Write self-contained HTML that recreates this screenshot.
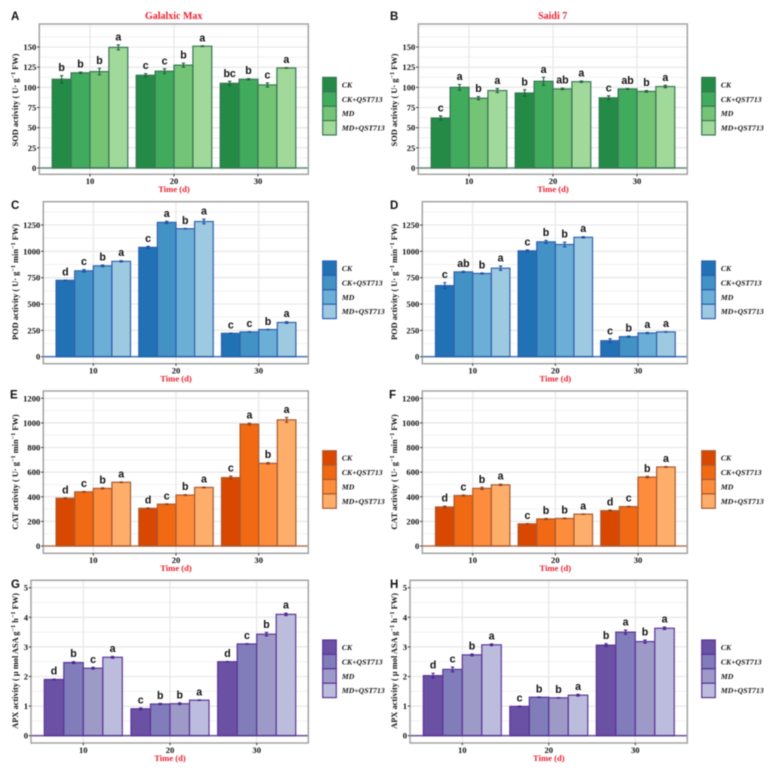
<!DOCTYPE html>
<html lang="en">
<head>
<meta charset="utf-8">
<title>Enzyme activity bar charts</title>
<style>
html,body{margin:0;padding:0;background:#fff;}
svg{display:block;filter:blur(0.5px);}
text{font-family:"Liberation Serif",serif;}
.sans{font-family:"Liberation Sans",sans-serif;font-weight:bold;}
</style>
</head>
<body>
<svg id="chart" xmlns="http://www.w3.org/2000/svg" width="769" height="768" viewBox="0 0 769 768"></svg>
<script>
const days = ['10', '20', '30'];
const treatments = ['CK', 'CK+QST713', 'MD', 'MD+QST713'];

const sodTicks = [0, 25, 50, 75, 100, 125, 150];
const podTicks = [0, 250, 500, 750, 1000, 1250];
const catTicks = [0, 200, 400, 600, 800, 1000, 1200];
const apxTicks = [0, 1, 2, 3, 4, 5];

const sodGalalxic = [[110, 118, 119.5, 149.5], [115, 120, 127.5, 151], [105, 110, 103, 124]];
const sodGalalxicErr = [[4.5, 1, 4, 3], [2, 3, 2.5, 0.5], [2.5, 0.7, 2.5, 0.3]];
const sodGalalxicLetters = [['b', 'b', 'b', 'a'], ['c', 'c', 'b', 'a'], ['bc', 'b', 'c', 'a']];

const sodSaidi = [[62, 100, 86.5, 96], [93, 107.5, 98, 107], [87, 98, 95, 101]];
const sodSaidiErr = [[2.5, 3.5, 2, 2.5], [4, 5, 1, 1], [2.5, 0.5, 1, 1.5]];
const sodSaidiLetters = [['c', 'a', 'b', 'a'], ['b', 'a', 'ab', 'a'], ['c', 'ab', 'b', 'a']];

const podGalalxic = [[725, 815, 862, 905], [1038, 1275, 1215, 1283], [222, 235, 258, 325]];
const podGalalxicErr = [[3, 12, 8, 6], [10, 10, 3, 22], [3, 3, 2, 8]];
const podGalalxicLetters = [['d', 'c', 'b', 'a'], ['c', 'a', 'b', 'a'], ['c', 'c', 'b', 'a']];

const podSaidi = [[675, 805, 790, 840], [1005, 1090, 1065, 1133], [152, 190, 225, 235]];
const podSaidiErr = [[28, 5, 5, 20], [8, 14, 22, 6], [18, 6, 5, 3]];
const podSaidiLetters = [['c', 'ab', 'b', 'a'], ['c', 'b', 'b', 'a'], ['c', 'b', 'a', 'a']];

const catGalalxic = [[388, 440, 468, 518], [306, 340, 414, 476], [556, 990, 672, 1025]];
const catGalalxicErr = [[4, 3, 5, 3], [3, 3, 3, 3], [12, 8, 6, 20]];
const catGalalxicLetters = [['d', 'c', 'b', 'a'], ['d', 'c', 'b', 'a'], ['c', 'a', 'b', 'a']];

const catSaidi = [[317, 410, 468, 497], [180, 220, 224, 259], [287, 320, 560, 642]];
const catSaidiErr = [[8, 4, 9, 5], [2, 4, 3, 2], [5, 3, 6, 3]];
const catSaidiLetters = [['d', 'c', 'b', 'a'], ['c', 'b', 'b', 'a'], ['d', 'c', 'b', 'a']];

const apxGalalxic = [[1.9, 2.47, 2.28, 2.65], [0.91, 1.07, 1.08, 1.2], [2.5, 3.1, 3.43, 4.1]];
const apxGalalxicErr = [[0.01, 0.03, 0.03, 0.03], [0.03, 0.02, 0.03, 0.01], [0.01, 0.01, 0.06, 0.04]];
const apxGalalxicLetters = [['d', 'b', 'c', 'a'], ['c', 'b', 'b', 'a'], ['d', 'c', 'b', 'a']];

const apxSaidi = [[2.03, 2.24, 2.73, 3.07], [0.99, 1.3, 1.28, 1.37], [3.06, 3.5, 3.18, 3.63]];
const apxSaidiErr = [[0.08, 0.08, 0.03, 0.03], [0.01, 0.01, 0.01, 0.03], [0.05, 0.07, 0.05, 0.04]];
const apxSaidiLetters = [['d', 'c', 'b', 'a'], ['c', 'b', 'b', 'a'], ['b', 'a', 'b', 'a']];

const greens = ['#238b45', '#41ab5d', '#74c476', '#a1d99b'];
const blues = ['#2171b5', '#4292c6', '#6baed6', '#9ecae1'];
const oranges = ['#d94801', '#f16913', '#fd8d3c', '#fdae6b'];
const purples = ['#6a51a3', '#807dba', '#9e9ac8', '#bcbddc'];

const NS = 'http://www.w3.org/2000/svg';
const root = document.getElementById('chart');

function make(tag, parent, attrs, content) {
  const el = document.createElementNS(NS, tag);
  for (const k in attrs) el.setAttribute(k, attrs[k]);
  if (content !== undefined) el.textContent = content;
  parent.appendChild(el);
  return el;
}

function drawPanel(p) {
  const g = make('g', root, {});
  
  

  const yTop = p.top, yBottom = p.bottom;
  const pxPerUnit = (p.y0 - p.yTickPos) / p.yTickVal;
  const yScale = v => p.y0 - v * pxPerUnit;
  const step = p.x30 - p.x20;
  const xScale = i => p.x10 + i * (p.x30 - p.x10) / (days.length - 1);
  const barW = 0.9 * step / treatments.length;

  // gridlines
  const tickStep = p.ticks[1] - p.ticks[0];
  for (let v = -tickStep / 2; yScale(v) > yTop; v += tickStep / 2) {
    const y = yScale(v);
    if (y >= yBottom) continue;
    const major = p.ticks.includes(v);
    const line = make('line', g, {x1: p.left, x2: p.right, y1: y, y2: y, stroke: major ? '#e8e8e8' : '#f0f0f0', 'stroke-width': major ? 1.3 : 0.9});
    
    
  }
  days.forEach((d, i) => {
    const line = make('line', g, {x1: xScale(i), x2: xScale(i), y1: yTop, y2: yBottom, stroke: '#e8e8e8', 'stroke-width': 1.3});
    
    
  });

  // bars, error bars, letters
  days.forEach((d, i) => {
    treatments.forEach((t, j) => {
      const value = p.values[i][j];
      const err = p.errors[i][j];
      const x = xScale(i) + (j - treatments.length / 2) * barW;
      const bar = make('rect', g, {x: x, y: yScale(value), width: barW, height: p.y0 - yScale(value), fill: p.colors[j], stroke: p.stroke, 'stroke-width': 1.2});
      
      

      const cx = x + barW / 2;
      const top = yScale(value + err), low = yScale(value - err);
      const eb = make('path', g, {d: 'M' + (cx - 1.7) + ' ' + top + 'H' + (cx + 1.7) + 'M' + cx + ' ' + top + 'V' + low + 'M' + (cx - 1.7) + ' ' + low + 'H' + (cx + 1.7), fill: 'none', stroke: p.errColor, 'stroke-width': 1.1});
      
      

      const lab = make('text', g, {x: cx, y: top - 4.5, 'text-anchor': 'middle', 'font-size': 10.6, fill: '#111', class: 'sans'}, p.letters[i][j]);
      
      
    });
  });

  // zero line
  const zero = make('line', g, {x1: p.left, x2: p.right, y1: p.y0, y2: p.y0, stroke: p.stroke, 'stroke-width': 1.6, opacity: 0.8});
  
  

  // panel border
  const border = make('rect', g, {x: p.left, y: yTop, width: p.right - p.left, height: yBottom - yTop, fill: 'none', stroke: '#a3a3a3', 'stroke-width': 1.5});
  
  

  // y axis
  p.ticks.forEach(v => {
    const y = yScale(v);
    const tick = make('line', g, {x1: p.left - 2.2, x2: p.left, y1: y, y2: y, stroke: '#222', 'stroke-width': 0.9});
    
    
    const lab = make('text', g, {x: p.left - 3, y: y + 3, 'text-anchor': 'end', 'font-size': 8.6, 'font-weight': 'bold', fill: '#111'}, String(v));
    
    
  });

  // x axis
  days.forEach((d, i) => {
    const tick = make('line', g, {x1: xScale(i), x2: xScale(i), y1: yBottom, y2: yBottom + 2.2, stroke: '#222', 'stroke-width': 0.9});
    
    
    const lab = make('text', g, {x: xScale(i), y: yBottom + 9.8, 'text-anchor': 'middle', 'font-size': 8.6, 'font-weight': 'bold', fill: '#111'}, d);
    
    
  });

  const xTitle = make('text', g, {x: xScale(1), y: yBottom + 17.8, 'text-anchor': 'middle', 'font-size': 8.6, 'font-weight': 'bold', fill: '#e8202e'}, 'Time (d)');
  
  

  // y title
  const yT = make('text', g, {transform: 'translate(' + p.yTitleX + ' ' + p.yTitleY + ') rotate(-90)', 'text-anchor': 'middle', 'font-size': 8.4, 'font-weight': 'bold', fill: '#111'});
  
  
  let raised = false;
  p.yTitle.forEach(part => {
    const isSup = part.startsWith('^');
    const attrs = isSup ? {dy: -2.8, 'font-size': 6.2} : {dy: raised ? 2.8 : 0};
    make('tspan', yT, attrs, isSup ? part.slice(1) : part);
    raised = isSup;
  });

  // panel letter
  const pl = make('text', g, {x: p.tagX, y: p.tagY, 'font-size': 11.5, fill: '#111', class: 'sans'}, p.letter);
  
  

  // chart title
  if (p.title) {
    const t = make('text', g, {x: p.titleX, y: 19, 'text-anchor': 'middle', 'font-size': 10, 'font-weight': 'bold', fill: '#e8202e'}, p.title);
    
    
  }

  // legend
  const keyH = 14.4;
  treatments.forEach((t, j) => {
    const ky = p.legendY + j * keyH;
    const key = make('rect', g, {x: p.legendX, y: ky, width: 13.6, height: keyH, fill: p.colors[j], stroke: p.stroke, 'stroke-width': 1.2});
    
    
    const lab = make('text', g, {x: p.legendX + 19.2, y: ky + keyH / 2 + 2.8, 'font-size': 7.7, 'font-weight': 'bold', 'font-style': 'italic', fill: '#111'}, t);
    
    
  });
}

const sodTitle = ['SOD activity ( U· g', '^−1', ' FW)'];
const podTitle = ['POD activity ( U· g', '^−1', ' min', '^−1', ' FW)'];
const catTitle = ['CAT activity ( U· g', '^−1', ' min', '^−1', ' FW)'];
const apxTitle = ['APX activity ( μ mol ASA g', '^−1', ' h', '^−1', ' FW)'];

const greenStroke = '#3a7555', blueStroke = '#2f60ad', orangeStroke = '#a85a30', purpleStroke = '#5a3596';

drawPanel({letter: 'A', title: 'Galalxic Max', titleX: 173.7, tagX: 11, tagY: 20, left: 39.3, right: 308.3, top: 24, bottom: 174.3, y0: 168, yTickPos: 47, yTickVal: 150, x10: 90, x20: 174, x30: 258, ticks: sodTicks, values: sodGalalxic, errors: sodGalalxicErr, letters: sodGalalxicLetters, colors: greens, stroke: greenStroke, errColor: '#1f5f3a', yTitle: sodTitle, yTitleX: 18, yTitleY: 100, legendX: 322.7, legendY: 77.4});
drawPanel({letter: 'B', title: 'Saidi 7', titleX: 552.7, tagX: 390, tagY: 20, left: 418.3, right: 687.3, top: 24, bottom: 174.3, y0: 168, yTickPos: 47, yTickVal: 150, x10: 469, x20: 553, x30: 637, ticks: sodTicks, values: sodSaidi, errors: sodSaidiErr, letters: sodSaidiLetters, colors: greens, stroke: greenStroke, errColor: '#1f5f3a', yTitle: sodTitle, yTitleX: 397, yTitleY: 100, legendX: 701.7, legendY: 77.4});
drawPanel({letter: 'C', tagX: 11, tagY: 209, left: 43.3, right: 308.3, top: 201.7, bottom: 363.7, y0: 356.7, yTickPos: 225, yTickVal: 1250, x10: 93.3, x20: 176, x30: 258.7, ticks: podTicks, values: podGalalxic, errors: podGalalxicErr, letters: podGalalxicLetters, colors: blues, stroke: blueStroke, errColor: '#1c4f9c', yTitle: podTitle, yTitleX: 18, yTitleY: 282, legendX: 322.7, legendY: 261});
drawPanel({letter: 'D', tagX: 390, tagY: 209, left: 422.3, right: 687.3, top: 201.7, bottom: 363.7, y0: 356.7, yTickPos: 225, yTickVal: 1250, x10: 472.7, x20: 555.3, x30: 638, ticks: podTicks, values: podSaidi, errors: podSaidiErr, letters: podSaidiLetters, colors: blues, stroke: blueStroke, errColor: '#1c4f9c', yTitle: podTitle, yTitleX: 397, yTitleY: 282, legendX: 701.7, legendY: 261});
drawPanel({letter: 'E', tagX: 10, tagY: 398.7, left: 43.3, right: 308.3, top: 391, bottom: 553.3, y0: 546, yTickPos: 398.3, yTickVal: 1200, x10: 93.3, x20: 176, x30: 258.7, ticks: catTicks, values: catGalalxic, errors: catGalalxicErr, letters: catGalalxicLetters, colors: oranges, stroke: orangeStroke, errColor: '#8f4320', yTitle: catTitle, yTitleX: 18, yTitleY: 472, legendX: 322.7, legendY: 450.7});
drawPanel({letter: 'F', tagX: 389, tagY: 398.7, left: 422.3, right: 687.3, top: 391, bottom: 553.3, y0: 546, yTickPos: 398.3, yTickVal: 1200, x10: 472.7, x20: 555.3, x30: 638, ticks: catTicks, values: catSaidi, errors: catSaidiErr, letters: catSaidiLetters, colors: oranges, stroke: orangeStroke, errColor: '#8f4320', yTitle: catTitle, yTitleX: 397, yTitleY: 472, legendX: 701.7, legendY: 450.7});
drawPanel({letter: 'G', tagX: 11, tagY: 588, left: 31, right: 308.3, top: 580.3, bottom: 743, y0: 735.7, yTickPos: 587.7, yTickVal: 5, x10: 83.3, x20: 170, x30: 256.7, ticks: apxTicks, values: apxGalalxic, errors: apxGalalxicErr, letters: apxGalalxicLetters, colors: purples, stroke: purpleStroke, errColor: '#4a1f8f', yTitle: apxTitle, yTitleX: 18, yTitleY: 661, legendX: 322.7, legendY: 640});
drawPanel({letter: 'H', tagX: 390, tagY: 588, left: 410, right: 687.3, top: 580.3, bottom: 743, y0: 735.7, yTickPos: 587.7, yTickVal: 5, x10: 462.3, x20: 548.7, x30: 635.3, ticks: apxTicks, values: apxSaidi, errors: apxSaidiErr, letters: apxSaidiLetters, colors: purples, stroke: purpleStroke, errColor: '#4a1f8f', yTitle: apxTitle, yTitleX: 397, yTitleY: 661, legendX: 701.7, legendY: 640});
</script>
</body>
</html>
